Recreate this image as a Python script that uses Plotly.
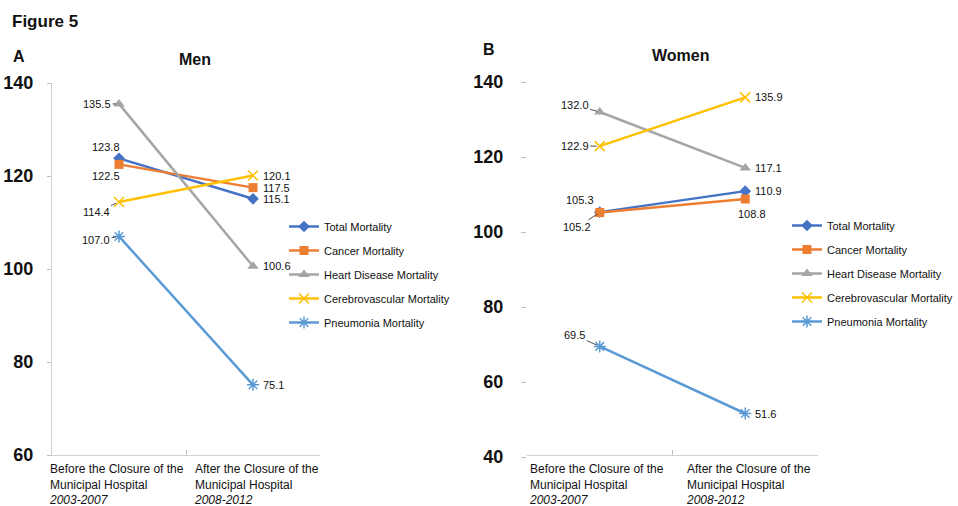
import plotly.graph_objects as go

# Age-adjusted mortality ratios before / after the municipal hospital closed
periods = [0, 1]
period_text = [
    "Before the Closure of the<br>Municipal Hospital<br><i>2003-2007</i>",
    "After the Closure of the<br>Municipal Hospital<br><i>2008-2012</i>",
]
series_names = [
    "Total Mortality",
    "Cancer Mortality",
    "Heart Disease Mortality",
    "Cerebrovascular Mortality",
    "Pneumonia Mortality",
]

men_total = [123.8, 115.1]
men_cancer = [122.5, 117.5]
men_heart = [135.5, 100.6]
men_cerebro = [114.4, 120.1]
men_pneumonia = [107.0, 75.1]

women_total = [105.3, 110.9]
women_cancer = [105.2, 108.8]
women_heart = [132.0, 117.1]
women_cerebro = [122.9, 135.9]
women_pneumonia = [69.5, 51.6]

men_ticks = [60, 80, 100, 120, 140]
women_ticks = [40, 60, 80, 100, 120, 140]

colors = ["#4472C4", "#ED7D31", "#A5A5A5", "#FFC000", "#5B9BD5"]
symbols = ["diamond", "square", "triangle-up", "x-thin-open", "asterisk-open"]
msizes = [9, 9, 10, 10, 10]

FONT = "Liberation Sans, Arial, sans-serif"

# label placement per (series index, period index)
men_label_style = {
    (0, 0): dict(xshift=-13, yshift=11),
    (1, 0): dict(xshift=-13, yshift=-12),
    (2, 0): dict(ax=-22, ay=0),
    (3, 0): dict(ax=-23, ay=10),
    (4, 0): dict(ax=-23, ay=4),
}
women_label_style = {
    (2, 0): dict(ax=-25, ay=-7),
    (3, 0): dict(ax=-25, ay=0),
    (0, 0): dict(xshift=-20, yshift=12),
    (1, 0): dict(ax=-23, ay=15),
    (4, 0): dict(ax=-25, ay=-11),
    (1, 1): dict(ax=7, ay=15),
}

fig = go.Figure()
annotations = []


def add_panel(data, xref, yref, legend, style, caption_shift):
    for i, (name, vals) in enumerate(zip(series_names, data)):
        open_marker = symbols[i].endswith("-open")
        fig.add_trace(go.Scatter(
            x=periods, y=vals, name=name, mode="lines+markers",
            xaxis=xref, yaxis=yref, legend=legend,
            legendgroup=f"{legend}{i}",
            line=dict(color=colors[i], width=2.5),
            marker=dict(symbol=symbols[i], size=msizes[i], color=colors[i],
                        line=dict(color=colors[i], width=1.5 if open_marker else 0)),
        ))
        for j, v in enumerate(vals):
            s = style.get((i, j))
            ann = dict(x=periods[j], y=v, xref=xref, yref=yref, text=f"{v:.1f}",
                       font=dict(family=FONT, size=11, color="#111"))
            if s is None:
                ann.update(showarrow=False, xanchor="left", yanchor="middle", xshift=8)
            elif "ax" in s:
                ann.update(showarrow=True, arrowhead=0, arrowwidth=0.8, arrowcolor="#222",
                           ax=s["ax"], ay=s["ay"], standoff=3)
            else:
                ann.update(showarrow=False, xanchor="center", yanchor="middle",
                           xshift=s["xshift"], yshift=s["yshift"])
            annotations.append(ann)
    # category captions: left-aligned text blocks centred under each period
    for j, txt in enumerate(period_text):
        annotations.append(dict(
            x=periods[j], y=0, xref=xref, yref=f"{yref} domain", yanchor="top",
            xanchor="center", align="left", showarrow=False, text=txt,
            xshift=-3 if j == 0 else 3, yshift=caption_shift,
            font=dict(family=FONT, size=12, color="#111"),
        ))


add_panel([men_total, men_cancer, men_heart, men_cerebro, men_pneumonia],
          "x", "y", "legend", men_label_style, -5)
add_panel([women_total, women_cancer, women_heart, women_cerebro, women_pneumonia],
          "x2", "y2", "legend2", women_label_style, -3)

# panel letters, titles and figure heading
for txt, x, y, size in [("Figure 5", 10, 22, 17), ("A", 11, 56, 16), ("Men", 195, 60, 16),
                        ("B", 481, 50, 16), ("Women", 680, 55, 16)]:
    annotations.append(dict(
        x=x / 958, y=1 - y / 506, xref="paper", yref="paper", showarrow=False,
        xanchor="left" if txt in ("Figure 5", "A", "B") else "center", yanchor="middle",
        text=f"<b>{txt}</b>", font=dict(family=FONT, size=size, color="#111"),
    ))

x_common = dict(range=[-0.5, 1.5], tickvals=[0.5, 1.5], ticks="inside", ticklen=5,
                tickcolor="#BFBFBF", showticklabels=False, showline=True,
                linecolor="#D0D0D0", linewidth=1, showgrid=False, zeroline=False,
                fixedrange=True, automargin=False)
y_font = dict(family=FONT, size=18, color="#111", weight="bold")

fig.update_layout(
    width=958, height=506, margin=dict(l=0, r=0, t=0, b=0, autoexpand=False),
    paper_bgcolor="white", plot_bgcolor="white",
    xaxis=dict(domain=[52 / 958, 320 / 958], **x_common),
    xaxis2=dict(domain=[527 / 958, 818 / 958], **x_common),
    yaxis=dict(domain=[1 - 455 / 506, 1 - 83 / 506], range=[60, 140], tickvals=men_ticks,
               ticks="outside", ticklen=4, tickcolor="#BFBFBF", showline=True,
               linecolor="#D0D0D0", linewidth=1, showgrid=False, zeroline=False,
               tickfont=y_font, ticklabelstandoff=10, anchor="x", automargin=False),
    yaxis2=dict(domain=[1 - 457 / 506, 1 - 82 / 506], range=[40, 140], tickvals=women_ticks,
                ticks="outside", ticklen=5, tickcolor="#BFBFBF", showline=False,
                showgrid=False, zeroline=False, tickfont=y_font, ticklabelstandoff=14,
                anchor="x2", automargin=False),
    legend=dict(x=284 / 958, y=1 - 212 / 506, xanchor="left", yanchor="top",
                font=dict(family=FONT, size=11, color="#111"), tracegroupgap=5,
                itemwidth=30, bgcolor="rgba(0,0,0,0)"),
    legend2=dict(x=1, y=1 - 211 / 506, xanchor="right", yanchor="top",
                 font=dict(family=FONT, size=11, color="#111"), tracegroupgap=5,
                 itemwidth=30, bgcolor="rgba(0,0,0,0)"),
    annotations=annotations,
    showlegend=True,
)

fig.write_html("out.html")
